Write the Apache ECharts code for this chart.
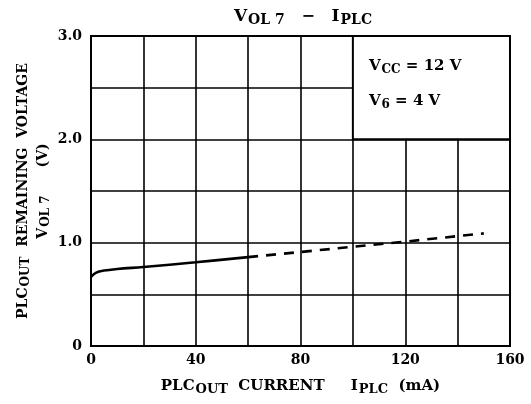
<!DOCTYPE html>
<html>
<head>
<meta charset="utf-8">
<script src="https://cdn.jsdelivr.net/npm/echarts@6/dist/echarts.min.js"></script>
<style>
  html, body { margin: 0; padding: 0; background: #fff; }
  #chart { width: 531px; height: 404px; }
</style>
</head>
<body>
<div id="chart"></div>
<script>
// V_OL7 - I_PLC curve
const solidCurrent = [0, 2, 5, 10, 20, 40, 60];
const solidVoltage = [0.67, 0.71, 0.73, 0.745, 0.765, 0.81, 0.86];
const dashCurrent = [60, 80, 100, 120, 150];
const dashVoltage = [0.86, 0.91, 0.96, 1.01, 1.09];
const xTicks = [0, 40, 80, 120, 160];
const yTicks = [0, 1.0, 2.0, 3.0];
// the condition box covers 100..160 mA, 2.0..3.0 V
const noteBox = [[100, 2.0], [160, 3.0]];

const FONT = 'DejaVu Serif';
const txt = function (size, extra) {
    return Object.assign({ fontFamily: FONT, fontWeight: 'bold', fontSize: size, color: '#000' }, extra || {});
};

function pairs(xs, ys) {
    return xs.map(function (x, i) { return [x, ys[i]]; });
}

const chart = echarts.init(document.getElementById('chart'));
chart.setOption({
    animation: false,
    backgroundColor: '#fff',
    title: {
        text: '{v|V}{s|OL 7}{n|   −   }{v|I}{s|PLC}',
        left: 298,
        top: 2,
        textAlign: 'center',
        textStyle: {
            rich: { v: txt(17), s: txt(14, { padding: [6, 0, 0, 1] }), n: txt(16) }
        }
    },
    grid: {
        left: 91, right: 21, top: 36, bottom: 58,
        outerBoundsMode: 'none',
        show: true, borderColor: '#000', borderWidth: 2
    },
    xAxis: {
        type: 'value',
        min: 0, max: 160, interval: 20,
        axisLine: { show: true, lineStyle: { color: '#000', width: 2 } },
        axisTick: { show: false },
        splitLine: { show: true, lineStyle: { color: '#000', width: 1.6 } },
        axisLabel: {
            margin: 7,
            fontFamily: FONT, fontWeight: 'bold', fontSize: 14, color: '#000',
            formatter: function (v) { return xTicks.indexOf(v) >= 0 ? String(v) : ''; }
        },
        name: '{t|PLC}{s|OUT}{t|  CURRENT     I}{s|PLC}{t|  (mA)}',
        nameLocation: 'middle',
        nameGap: 30,
        nameTextStyle: {
            rich: { t: txt(15), s: txt(13, { padding: [7, 0, 0, 1] }) }
        }
    },
    yAxis: {
        type: 'value',
        min: 0, max: 3, interval: 0.5,
        axisLine: { show: true, lineStyle: { color: '#000', width: 2 } },
        axisTick: { show: false },
        splitLine: { show: true, lineStyle: { color: '#000', width: 1.6 } },
        axisLabel: {
            margin: 9,
            fontFamily: FONT, fontWeight: 'bold', fontSize: 14, color: '#000',
            formatter: function (v) {
                if (yTicks.indexOf(v) < 0) return '';
                return v === 0 ? '0' : v.toFixed(1);
            }
        },
        name: '{t|PLC}{s|OUT}{t|  REMAINING  VOLTAGE}\n{t|V}{s|OL 7}{g|}{t|(V)}',
        nameLocation: 'middle',
        nameRotate: 90,
        nameGap: 38,
        nameMoveOverlap: false,
        nameTextStyle: {
            lineHeight: 20,
            rich: {
                t: txt(14, { lineHeight: 20 }),
                s: txt(12, { lineHeight: 20, padding: [6, 0, 0, 1] }),
                g: { width: 28 }
            }
        }
    },
    series: [
        {
            type: 'line',
            data: pairs(solidCurrent, solidVoltage),
            smooth: 0.4,
            showSymbol: false,
            lineStyle: { color: '#000', width: 2.6 },
            z: 3,
            markArea: {
                silent: true,
                itemStyle: { color: '#fff', borderColor: '#000', borderWidth: 2 },
                label: {
                    show: true,
                    position: 'insideTopLeft',
                    distance: 0,
                    padding: [14, 0, 0, 17],
                    lineHeight: 35,
                    rich: {
                        v: txt(15, { lineHeight: 35 }),
                        s: txt(12, { lineHeight: 35, padding: [7, 0, 0, 1] })
                    },
                    formatter: '{v|V}{s|CC}{v| = 12 V}\n{v|V}{s|6}{v| = 4 V}'
                },
                data: [[{ coord: noteBox[0] }, { coord: noteBox[1] }]]
            }
        },
        {
            type: 'line',
            data: pairs(dashCurrent, dashVoltage),
            showSymbol: false,
            lineStyle: { color: '#000', width: 2.6, type: [10, 8] },
            z: 3
        }
    ]
});
</script>
</body>
</html>
